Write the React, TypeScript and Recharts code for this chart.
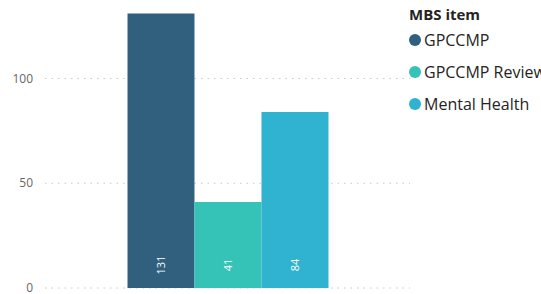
import React from "react";
import { BarChart, Bar, XAxis, YAxis, CartesianGrid, LabelList } from "recharts";

const legendTitle = "MBS item";
const seriesNames = ["GPCCMP", "GPCCMP Review", "Mental Health"];
const seriesKeys = ["gpccmp", "review", "mental"];
const seriesValues = [131, 41, 84];
const seriesColors = ["#31607f", "#34c3b6", "#30b2d1"];
const yTicks = [0, 50, 100];

const rows = [
  seriesKeys.reduce<Record<string, number | string>>(
    (row, key, i) => {
      row[key] = seriesValues[i];
      return row;
    },
    { name: "" }
  ),
];

const FONT = "'Open Sans', 'Noto Sans', sans-serif";

// value labels sit near the bar base, rotated to read bottom-up
function InsideLabel(props: any) {
  const { x, y, width, height, value } = props;
  const cx = Number(x) + Number(width) / 2;
  const cy = Number(y) + Number(height) - 23;
  return (
    <text
      x={cx}
      y={cy}
      fill="#ffffff"
      fontSize={11}
      fontFamily={FONT}
      textAnchor="middle"
      dominantBaseline="central"
      transform={`rotate(-90, ${cx}, ${cy})`}
    >
      {value}
    </text>
  );
}

export default function App() {
  return (
    <div
      style={{
        position: "absolute",
        left: 0,
        top: 0,
        width: 541,
        height: 294,
        overflow: "hidden",
        background: "#fff",
        fontFamily: FONT,
      }}
    >
      <BarChart
        width={541}
        height={294}
        data={rows}
        margin={{ top: 13.5, right: 131, bottom: 6, left: 0 }}
        barCategoryGap="22.6%"
        barGap={0}
      >
        <CartesianGrid
          vertical={false}
          horizontalValues={yTicks}
          stroke="#c8c8c8"
          strokeDasharray="1.5 5"
        />
        <XAxis dataKey="name" hide />
        <YAxis
          width={45}
          domain={[0, 131]}
          ticks={yTicks}
          interval={0}
          tickLine={false}
          axisLine={false}
          tickMargin={6}
          tick={{ fontSize: 12, fill: "#666666", fontFamily: FONT }}
        />
        {seriesKeys.map((key, i) => (
          <Bar
            key={key}
            dataKey={key}
            name={seriesNames[i]}
            fill={seriesColors[i]}
            isAnimationActive={false}
          >
            <LabelList dataKey={key} content={<InsideLabel />} />
          </Bar>
        ))}
      </BarChart>
      <div style={{ position: "absolute", left: 409, top: 4 }}>
        <div
          style={{
            fontSize: 15,
            fontWeight: 700,
            color: "#252423",
            whiteSpace: "nowrap",
            lineHeight: "20px",
          }}
        >
          {legendTitle}
        </div>
        {seriesNames.map((name) => (
          <div
            key={name}
            style={{
              display: "flex",
              alignItems: "center",
              height: 32,
              whiteSpace: "nowrap",
            }}
          >
            <span
              style={{
                display: "inline-block",
                width: 12,
                height: 12,
                borderRadius: "50%",
                background: seriesColors[seriesNames.indexOf(name)],
                marginRight: 3,
                flexShrink: 0,
              }}
            />
            <span style={{ fontSize: 16, color: "#252423" }}>{name}</span>
          </div>
        ))}
      </div>
    </div>
  );
}
